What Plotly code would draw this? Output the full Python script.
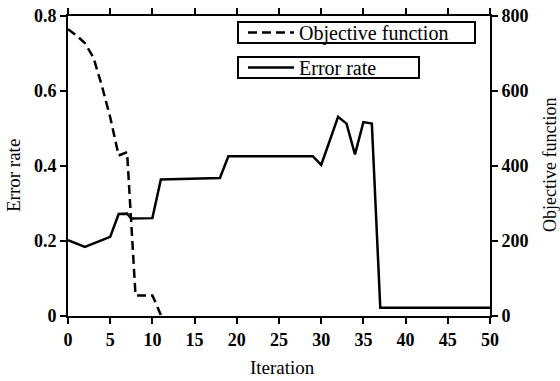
import plotly.graph_objects as go

# Error rate (left axis)
err_x = [0, 2, 5, 6, 7, 7.5, 10, 11, 18, 19, 29, 30, 32, 33, 34, 35, 36, 37, 50]
err_y = [0.202, 0.184, 0.211, 0.272, 0.273, 0.260, 0.261, 0.364, 0.368, 0.426, 0.426,
         0.403, 0.531, 0.513, 0.431, 0.517, 0.513, 0.022, 0.022]

# Objective function (right axis)
obj_x = [0, 1, 2, 3, 4, 5, 6, 7, 8, 10, 11]
obj_y = [765, 748, 728, 690, 615, 530, 428, 437, 55, 55, 3]

x_ticks = [0, 5, 10, 15, 20, 25, 30, 35, 40, 45, 50]
left_ticks = [0, 0.2, 0.4, 0.6, 0.8]
left_labels = ["0", "0.2", "0.4", "0.6", "0.8"]
right_ticks = [0, 200, 400, 600, 800]
right_labels = ["0", "200", "400", "600", "800"]

FONT = "Liberation Serif, Times New Roman, DejaVu Serif, serif"

fig = go.Figure()
fig.add_trace(go.Scatter(x=obj_x, y=obj_y, mode="lines", name="Objective function",
                         line=dict(color="black", width=2.5, dash="9px,5px"),
                         yaxis="y2", legend="legend"))
fig.add_trace(go.Scatter(x=err_x, y=err_y, mode="lines", name="Error rate",
                         line=dict(color="black", width=2.5),
                         yaxis="y", legend="legend2"))

tickfont = dict(family=FONT, size=18, color="black", weight="bold")
titlefont = dict(family=FONT, size=19, color="black")
legfont = dict(family=FONT, size=20, color="black")

axis_common = dict(showline=True, linecolor="black", linewidth=2, ticks="outside",
                   ticklen=6, tickwidth=2, tickcolor="black", showgrid=False,
                   zeroline=False, tickfont=tickfont, automargin=False)

# legend frames (paper coordinates)
W, H = 422.0, 300.0
def px_x(p):
    return (p - 68) / W
def px_y(p):
    return (316 - p) / H
def box(x0, y0, x1, y1):
    return dict(type="rect", xref="paper", yref="paper",
                x0=px_x(x0), x1=px_x(x1), y0=px_y(y1), y1=px_y(y0),
                line=dict(color="black", width=2), fillcolor="white", layer="above")

fig.update_layout(
    width=560, height=381,
    margin=dict(l=68, r=70, t=16, b=65, autoexpand=False),
    plot_bgcolor="white", paper_bgcolor="white",
    font=dict(family=FONT, size=19, color="black"),
    xaxis=dict(range=[0, 50], tickvals=x_ticks, mirror="ticks",
               **axis_common),
    yaxis=dict(range=[0, 0.8], tickvals=left_ticks, ticktext=left_labels,
               **axis_common),
    yaxis2=dict(range=[0, 800], tickvals=right_ticks, ticktext=right_labels,
                overlaying="y", side="right",
                **axis_common),
    annotations=[
        dict(text="Iteration", xref="paper", yref="paper", x=px_x(282), y=px_y(367),
             showarrow=False, font=titlefont, xanchor="center", yanchor="middle"),
        dict(text="Error rate", xref="paper", yref="paper", x=px_x(13), y=px_y(175),
             textangle=-90, showarrow=False, font=titlefont,
             xanchor="center", yanchor="middle"),
        dict(text="Objective function", xref="paper", yref="paper", x=px_x(550), y=px_y(165),
             textangle=-90, showarrow=False, font=dict(family=FONT, size=18, color="black"),
             xanchor="center", yanchor="middle"),
    ],
    shapes=[box(238, 22, 475, 43), box(238, 57, 419, 78)],
    legend=dict(x=px_x(243), y=px_y(32.5), xanchor="left", yanchor="middle",
                borderwidth=0, bgcolor="rgba(0,0,0,0)",
                font=legfont, itemwidth=46),
    legend2=dict(x=px_x(243), y=px_y(67.5), xanchor="left", yanchor="middle",
                 borderwidth=0, bgcolor="rgba(0,0,0,0)",
                 font=legfont, itemwidth=46),
    showlegend=True,
)

fig.write_html("out.html")
